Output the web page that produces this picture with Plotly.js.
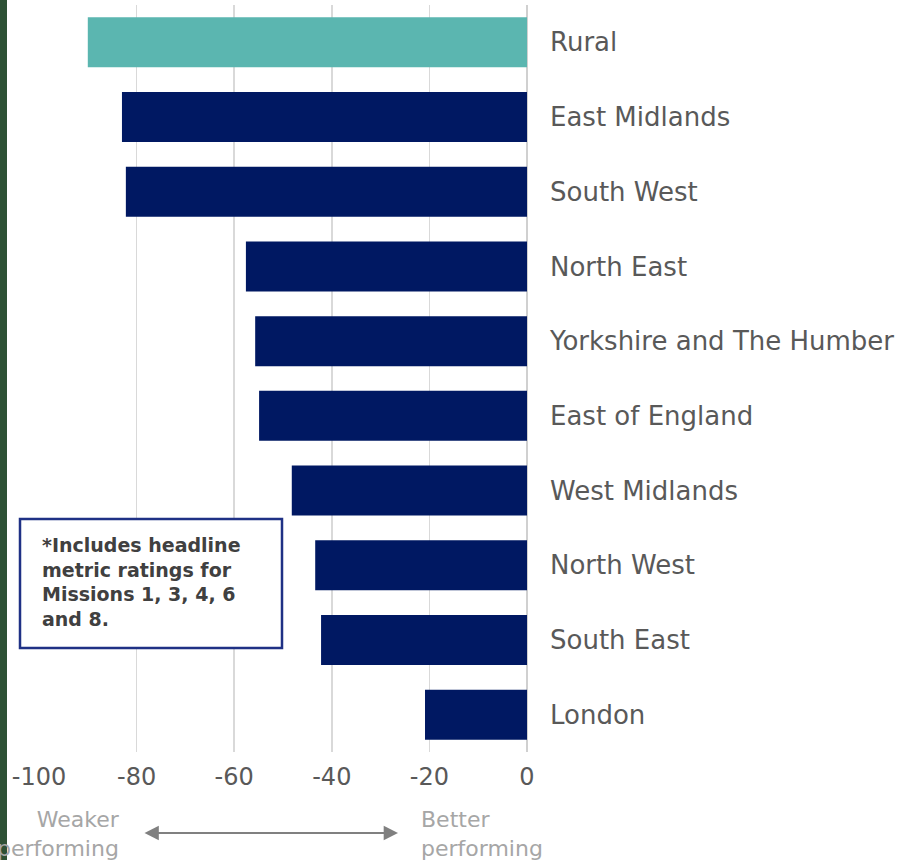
<!DOCTYPE html>
<html>
<head>
<meta charset="utf-8">
<script src="https://cdn.plot.ly/plotly-3.0.1.min.js"></script>
<style>
  html, body { margin: 0; padding: 0; background: #ffffff; }
  #chart { width: 902px; height: 860px; }
</style>
</head>
<body>
<div id="chart"></div>
<script>
// ---- Data ----
var categories = ["Rural", "East Midlands", "South West", "North East",
  "Yorkshire and The Humber", "East of England", "West Midlands",
  "North West", "South East", "London"];
var values = [-90, -83, -82.2, -57.6, -55.7, -54.9, -48.2, -43.4, -42.2, -20.9];
var highlightCategory = "Rural";
var xTickValues = [-100, -80, -60, -40, -20, 0];
var xTickLabels = ["-100", "-80", "-60", "-40", "-20", "0"];
var noteLines = ["*Includes headline", "metric ratings for", "Missions 1, 3, 4, 6", "and 8."];
var leftLabelLines = ["Weaker", "performing"];
var rightLabelLines = ["Better", "performing"];

// ---- Styles ----
var NAVY = "#001862";
var TEAL = "#5bb6b0";
var barColors = categories.map(function (c) { return c === highlightCategory ? TEAL : NAVY; });

var FONT = "DejaVu Sans, sans-serif";

var trace = {
  type: "bar",
  orientation: "h",
  x: values,
  y: categories,
  marker: { color: barColors, line: { width: 0 } },
  hoverinfo: "x+y"
};

var layout = {
  width: 902,
  height: 860,
  margin: { l: 39, r: 375, t: 5, b: 108, pad: 0 },
  paper_bgcolor: "#ffffff",
  plot_bgcolor: "#ffffff",
  showlegend: false,
  bargap: 0.33,
  font: { family: FONT, color: "#595959" },
  xaxis: {
    range: [-100, 0],
    tickvals: xTickValues,
    ticktext: xTickLabels,
    showgrid: true,
    gridcolor: "#d9d9d9",
    gridwidth: 1.5,
    zeroline: true,
    zerolinecolor: "#d0d0d0",
    zerolinewidth: 1.5,
    showline: false,
    ticks: "",
    ticklabelstandoff: 8,
    tickfont: { family: FONT, size: 24, color: "#595959" },
    fixedrange: true
  },
  yaxis: {
    type: "category",
    categoryorder: "array",
    categoryarray: categories,
    autorange: "reversed",
    side: "right",
    showgrid: false,
    zeroline: false,
    showline: false,
    ticks: "",
    ticklabelstandoff: 22,
    tickfont: { family: FONT, size: 26, color: "#595959" },
    fixedrange: true
  },
  shapes: [
    // dark green strip at left edge of the picture
    { type: "rect", xref: "paper", yref: "paper",
      x0: -39 / 488, x1: -32 / 488, y0: -0.2, y1: 1.05,
      fillcolor: "#2e5135", line: { width: 0 }, layer: "above" },
    // note box
    { type: "rect", xref: "paper", yref: "paper",
      x0: (20 - 39) / 488, x1: (282 - 39) / 488,
      y0: (752 - 648) / 747, y1: (752 - 519) / 747,
      fillcolor: "#ffffff", line: { color: "#1f3185", width: 2.5 }, layer: "above" }
  ],
  annotations: [
    { xref: "paper", yref: "paper", x: (40 - 39) / 488, y: (752 - 582) / 747,
      xanchor: "left", yanchor: "middle", align: "left", showarrow: false,
      text: noteLines.map(function (s) { return "<b>" + s + "</b>"; }).join("<br>"),
      font: { family: FONT, size: 19, color: "#404040" } },
    { xref: "paper", yref: "paper", x: (122 - 39) / 488, y: (752 - 834) / 747,
      xanchor: "right", yanchor: "middle", align: "right", showarrow: false,
      text: leftLabelLines.join("<br>"),
      font: { family: FONT, size: 22, color: "#a6a6a6" } },
    { xref: "paper", yref: "paper", x: (419 - 39) / 488, y: (752 - 834) / 747,
      xanchor: "left", yanchor: "middle", align: "left", showarrow: false,
      text: rightLabelLines.join("<br>"),
      font: { family: FONT, size: 22, color: "#a6a6a6" } },
    { xref: "paper", yref: "paper", x: (398 - 39) / 488, y: (752 - 833) / 747,
      axref: "pixel", ayref: "pixel", ax: -255, ay: 0,
      text: "", showarrow: true, arrowside: "end+start",
      arrowhead: 2, arrowsize: 1.3, arrowwidth: 2.2, arrowcolor: "#808080",
      standoff: 0, startstandoff: 0 }
  ]
};

Plotly.newPlot("chart", [trace], layout, { displayModeBar: false, staticPlot: true });
</script>
</body>
</html>
